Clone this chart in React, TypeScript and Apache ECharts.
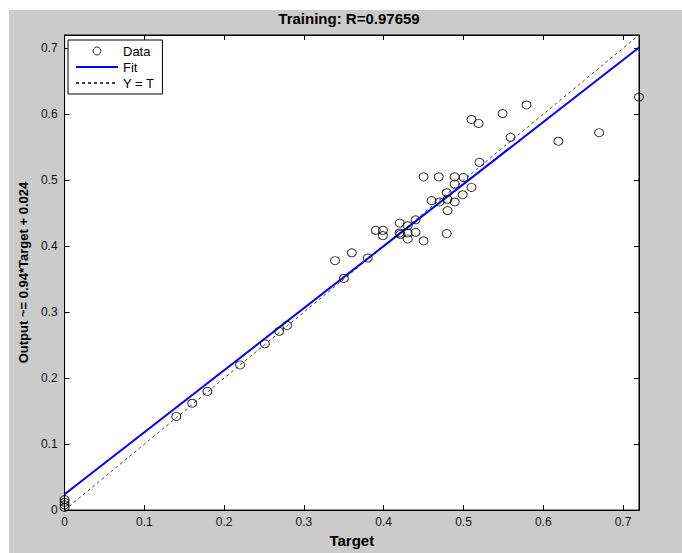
import React, { useEffect, useRef } from "react";
import * as echarts from "echarts";

// Data points (Target, Output)
const dataTarget = [
  0, 0, 0, 0,
  0.14, 0.16, 0.179, 0.22, 0.251, 0.269, 0.279,
  0.339, 0.35, 0.36, 0.38,
  0.39, 0.399, 0.399,
  0.42, 0.42, 0.421, 0.43, 0.43, 0.43, 0.44, 0.44,
  0.45, 0.45, 0.46, 0.469, 0.47, 0.48, 0.479, 0.48, 0.479,
  0.489, 0.489, 0.489, 0.5, 0.499, 0.51,
  0.51, 0.519, 0.52, 0.549, 0.559, 0.579, 0.619, 0.67, 0.72,
];
const dataOutput = [
  0.004, 0.008, 0.012, 0.016,
  0.142, 0.162, 0.18, 0.22, 0.252, 0.271, 0.28,
  0.378, 0.351, 0.39, 0.382,
  0.424, 0.424, 0.416,
  0.435, 0.42, 0.418, 0.431, 0.42, 0.411, 0.44, 0.421,
  0.505, 0.408, 0.469, 0.505, 0.467, 0.471, 0.481, 0.454, 0.419,
  0.505, 0.494, 0.467, 0.504, 0.478, 0.489,
  0.592, 0.586, 0.527, 0.601, 0.565, 0.614, 0.559, 0.572, 0.626,
];

// Fit line endpoints: Output ~= 0.94*Target + 0.024
const fitTarget = [0, 0.72];
const fitOutput = [0.024, 0.701];

// Identity line Y = T
const idTarget = [0, 0.72];
const idOutput = [0, 0.72];

const axisMin = 0;
const axisMax = 0.72;
const tickStep = 0.1;

const titleText = "Training: R=0.97659";
const xName = "Target";
const yName = "Output ~= 0.94*Target + 0.024";
const legendNames = ["Data", "Fit", "Y = T"];

const FONT = 'Arial, "Liberation Sans", Helvetica, sans-serif';

const fmt = (v: number) => {
  const r = Math.round(v * 10);
  if (Math.abs(v * 10 - r) > 1e-6) return "";
  return r === 0 ? "0" : (r / 10).toString();
};

export default function App() {
  const ref = useRef<HTMLDivElement>(null);
  useEffect(() => {
    if (!ref.current) return;
    const chart = echarts.init(ref.current, null, { renderer: "svg" });
    const pairs = (xs: number[], ys: number[]) => xs.map((x, i) => [x, ys[i]]);
    const baseAxis = {
      type: "value" as const,
      min: axisMin,
      max: axisMax,
      interval: tickStep,
      axisLine: { show: true, onZero: false, lineStyle: { color: "#000", width: 1 } },
      axisTick: { show: true, inside: true, length: 5, lineStyle: { color: "#000" } },
      splitLine: { show: false },
    };
    chart.setOption({
      animation: false,
      backgroundColor: "#cbcbcb",
      title: {
        text: titleText,
        left: 340,
        top: 1,
        padding: 0,
        textAlign: "center",
        textStyle: { fontFamily: FONT, fontSize: 15, fontWeight: "bold", color: "#000" },
      },
      grid: {
        left: 52,
        top: 25,
        width: 578,
        height: 485,
        show: true,
        backgroundColor: "#fff",
        borderColor: "#000",
        borderWidth: 1,
      },
      legend: {
        data: [
          { name: legendNames[0], itemStyle: { borderWidth: 1, borderColor: "#000", color: "rgba(0,0,0,0)" } },
          { name: legendNames[1], itemStyle: { opacity: 0 } },
          { name: legendNames[2], itemStyle: { opacity: 0 } },
        ],
        orient: "vertical",
        left: 59,
        top: 30,
        padding: [4, 8, 4, 7],
        itemGap: 2,
        itemWidth: 42,
        itemHeight: 8,
        backgroundColor: "#fff",
        borderColor: "#000",
        borderWidth: 1,
        borderRadius: 0,
        textStyle: { fontFamily: FONT, fontSize: 13, color: "#000", lineHeight: 14 },
      },
      xAxis: [
        {
          ...baseAxis,
          position: "bottom",
          name: xName,
          nameLocation: "middle",
          nameGap: 18,
          nameTextStyle: { fontFamily: FONT, fontSize: 15, fontWeight: "bold", color: "#000" },
          axisLabel: { formatter: fmt, fontFamily: FONT, fontSize: 12, color: "#111", margin: 6 },
        },
        {
          ...baseAxis,
          position: "top",
          axisLabel: { show: false },
        },
      ],
      yAxis: [
        {
          ...baseAxis,
          position: "left",
          name: yName,
          nameLocation: "middle",
          nameGap: 33,
          nameTextStyle: { fontFamily: FONT, fontSize: 13, fontWeight: "bold", color: "#000" },
          axisLabel: { formatter: fmt, fontFamily: FONT, fontSize: 12, color: "#111", margin: 7 },
        },
        {
          ...baseAxis,
          position: "right",
          axisLabel: { show: false },
        },
      ],
      series: [
        {
          name: "Y = T",
          type: "line",
          data: pairs(idTarget, idOutput),
          showSymbol: false,
          symbol: "none",
          lineStyle: { color: "#444", width: 1, type: [3, 3] },
          itemStyle: { color: "#444" },
          z: 2,
        },
        {
          name: "Fit",
          type: "line",
          data: pairs(fitTarget, fitOutput),
          showSymbol: false,
          symbol: "none",
          lineStyle: { color: "#0000ff", width: 2 },
          itemStyle: { color: "#0000ff" },
          z: 3,
        },
        {
          name: "Data",
          type: "scatter",
          data: pairs(dataTarget, dataOutput),
          symbol: "circle",
          symbolSize: [9, 8],
          clip: false,
          itemStyle: { color: "rgba(0,0,0,0)", borderColor: "#000", borderWidth: 1 },
          z: 4,
        },
      ],
    });
    return () => chart.dispose();
  }, []);
  return (
    <div style={{ position: "absolute", left: 0, top: 0, width: 682, height: 553, background: "#fff" }}>
      <div ref={ref} style={{ position: "absolute", left: 9, top: 10, width: 673, height: 543 }} />
    </div>
  );
}
